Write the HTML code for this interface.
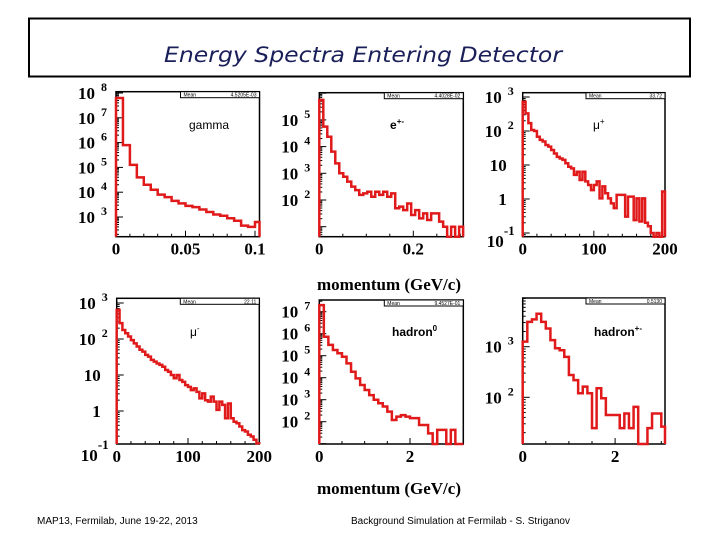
<!DOCTYPE html>
<html><head><meta charset="utf-8"><style>
html,body{margin:0;padding:0;background:#fff;}
svg{display:block;}
.tl{font-family:"Liberation Serif",serif;font-weight:bold;fill:#000;}
.st{font-family:"Liberation Sans",sans-serif;fill:#000;}
</style></head><body>
<svg id="fig" width="720" height="540" viewBox="0 0 720 540" xmlns="http://www.w3.org/2000/svg">
<rect x="0" y="0" width="720" height="540" fill="#fff"/>
<rect x="29" y="18.5" width="661" height="58" fill="none" stroke="#000" stroke-width="2"/>
<text x="363" y="62" text-anchor="middle" font-family="'Comic Sans MS','DejaVu Sans',sans-serif" font-style="italic" font-size="21" fill="#1a1f5a" textLength="398" lengthAdjust="spacingAndGlyphs">Energy Spectra Entering Detector</text>
<text class="tl" x="389" y="290" text-anchor="middle" font-size="17">momentum (GeV/c)</text>
<text class="tl" x="389" y="494" text-anchor="middle" font-size="17">momentum (GeV/c)</text>
<text class="st" x="37" y="524" font-size="10">MAP13, Fermilab, June 19-22, 2013</text>
<text class="st" x="351" y="524" font-size="10">Background Simulation at Fermilab - S. Striganov</text>
<g id="panels"></g>
</svg>
<script>
// Histogram contents (log10 of counts per bin)
const gammaCounts = [7.8,5.9,5.1,4.6,4.3,4.1,3.9,3.8,3.65,3.55,3.45,3.4,3.3,3.2,3.1,3.05,2.95,2.85,2.65,2.6,2.8];
const epmCounts = [5.75,4.75,4.37,3.81,3.37,3.0,2.87,2.69,2.5,2.37,2.19,2.25,2.31,2.12,2.31,2.19,2.31,2.12,2.25,1.69,1.75,1.62,1.87,1.44,1.62,1.31,1.5,1.25,1.5,1.5,1.19,1.0,0.4,1.0,0.4,1.0];
const muPlusCounts = [2.86,2.52,2.23,2.03,2.0,1.83,1.74,1.69,1.59,1.54,1.44,1.34,1.24,1.19,1.15,1.05,0.95,0.9,0.71,0.8,0.56,0.8,0.52,0.41,0.26,0.41,0.52,0.02,0.37,0.17,0.02,-0.13,-0.27,0.12,0.12,0.12,-0.52,0.07,0.07,-0.62,0.02,-0.66,0.02,-0.7,-0.8,-1.0,-1.5,-1.0,-1.5,0.22];
const muMinusCounts = [2.81,2.44,2.25,2.16,2.07,1.97,1.88,1.79,1.7,1.65,1.56,1.51,1.42,1.37,1.32,1.28,1.23,1.14,1.09,1.0,0.91,1.0,0.86,0.81,0.72,0.67,0.58,0.63,0.53,0.35,0.49,0.3,0.26,0.4,0.26,0.03,0.26,0.17,-0.2,0.21,-0.2,-0.3,-0.34,-0.43,-0.53,-0.57,-0.66,-0.71,-0.8,-0.9];
const hadron0Counts = [7.3,5.86,5.49,5.26,5.11,4.95,4.65,4.27,3.97,3.67,3.44,3.21,3.0,2.84,2.69,2.46,2.08,2.23,2.3,2.23,2.16,2.16,1.85,1.85,1.47,0.9,1.63,1.63,0.9,1.63,0.9,0.9];
const hadronPMCounts = [3.1,3.49,3.54,3.65,3.49,3.36,3.13,2.97,2.93,2.8,2.44,2.34,2.08,2.21,2.08,1.39,2.18,1.98,1.65,1.65,1.65,1.39,1.68,1.39,1.81,1.0,1.0,1.39,1.68,1.68,1.42];
const binWidths = [0.005,0.0085,4,4,0.1,0.1];
const xTickLabels = [["0","0.05","0.1"],["0","0.2"],["0","100","200"],["0","100","200"],["0","2"],["0","2"]];
const xTickValues = [[0,0.05,0.1],[0,0.2],[0,100,200],[0,100,200],[0,2],[0,2]];
const xMinorStep = [0.01,0.05,20,20,0.5,0.5];
const decades = [[3,4,5,6,7,8],[2,3,4,5],[-1,0,1,2,3],[-1,0,1,2,3],[2,3,4,5,6,7],[2,3]];
const meanValues = ["4.5205E-03","4.4028E-02","33.72","22.11","9.4527E-01","0.5130"];
const particleNames = ["gamma","e","\u03bc","\u03bc","hadron","hadron"];
const particleSups = ["","+-","+","-","0","+-"];

const layout = [
 {name:"gamma",L:116,R:259.5,T:91.7,B:236.7,xScale:1390,yRef:217,lRef:3,dec:24.8,lab:[189,129],bold:false},
 {name:"e-pm",L:319.3,R:463.3,T:92.7,B:236.7,xScale:470,yRef:200,lRef:2,dec:26.7,lab:[390,129],bold:true},
 {name:"mu-plus",L:522.7,R:665,T:92.7,B:236.7,xScale:0.7115,yRef:97,lRef:3,dec:34,lab:[593,129],bold:false},
 {name:"mu-minus",L:116.7,R:259.3,T:298.3,B:444,xScale:0.713,yRef:303,lRef:3,dec:36,lab:[190,336],bold:false},
 {name:"hadron-0",L:319.3,R:463.3,T:300,B:444,xScale:45.35,yRef:311.7,lRef:7,dec:22,lab:[392,336],bold:true},
 {name:"hadron-pm",L:522.7,R:665,T:298,B:444,xScale:46.2,yRef:346.7,lRef:3,dec:50.6,lab:[594,336],bold:true}
];
const allCounts = [gammaCounts,epmCounts,muPlusCounts,muMinusCounts,hadron0Counts,hadronPMCounts];
const NS="http://www.w3.org/2000/svg";
const root=document.getElementById('panels');
function mk(tag,attrs,parent){const e=document.createElementNS(NS,tag);for(const k in attrs)e.setAttribute(k,attrs[k]);parent.appendChild(e);return e;}

layout.forEach((p,pi)=>{
 const g=mk('g',{},root);
 
 
 const xOf=v=>p.L+v*p.xScale;
 const yOf=l=>p.yRef-(l-p.lRef)*p.dec;
 const clampY=y=>Math.max(p.T,Math.min(p.B,y));
 const fr=mk('rect',{x:p.L,y:p.T,width:p.R-p.L,height:p.B-p.T,fill:'none',stroke:'#000','stroke-width':1.5},g);
 
 
 const xmax=(p.R-p.L)/p.xScale;
 for(let v=0;v<=xmax+1e-9;v+=xMinorStep[pi]){
  const x=xOf(v);const major=xTickValues[pi].some(t=>Math.abs(t-v)<1e-9);
  const t=mk('line',{x1:x,x2:x,y1:p.B,y2:p.B-(major?6:3),stroke:'#000','stroke-width':1},g);
  
  
 }
 xTickValues[pi].forEach((v,i)=>{
  const t=mk('text',{x:xOf(v),y:p.B+18,'text-anchor':'middle','font-size':17,class:'tl'},g);
  t.textContent=xTickLabels[pi][i];
  
  
 });
 const dmin=Math.floor(p.lRef-(p.B-p.yRef)/p.dec)-1, dmax=Math.ceil(p.lRef+(p.yRef-p.T)/p.dec)+1;
 for(let d=dmin;d<=dmax;d++){for(let m=1;m<10;m++){
  const y=yOf(d+Math.log10(m));if(y<p.T||y>p.B)continue;
  const t=mk('line',{x1:p.L,x2:p.L+(m===1?7:3),y1:y,y2:y,stroke:'#000','stroke-width':1},g);
  
  
 }}
 decades[pi].forEach(d=>{
  const y=yOf(d)+6;
  const lab=mk('g',{},g);
  
  
  if(d===0){const t=mk('text',{x:p.L-16,y:y,'text-anchor':'end','font-size':17,class:'tl'},lab);t.textContent='1';}
  else if(d===1){const t=mk('text',{x:p.L-16,y:y,'text-anchor':'end','font-size':17,class:'tl'},lab);t.textContent='10';}
  else if(d<0){const t=mk('text',{x:p.L-19,y:y+8,'text-anchor':'end','font-size':17,class:'tl'},lab);t.textContent='10';
   const s=mk('text',{x:p.L-8,y:y-4,'text-anchor':'end','font-size':13,class:'tl'},lab);s.textContent=String(d);}
  else{const t=mk('text',{x:p.L-38,y:y,'font-size':17,class:'tl'},lab);t.textContent='10';
   const s=mk('text',{x:p.L-15,y:y-8,'font-size':12,class:'tl'},lab);s.textContent=String(d);}
 });
 const sb=mk('g',{},g);
 
 
 mk('rect',{x:p.R-79,y:p.T,width:79,height:6,fill:'#fff',stroke:'#000','stroke-width':1},sb);
 const m1=mk('text',{x:p.R-76,y:p.T+5,'font-size':5,class:'st'},sb);m1.textContent='Mean';
 const m2=mk('text',{x:p.R-3,y:p.T+5,'font-size':5,'text-anchor':'end',class:'st'},sb);m2.textContent=meanValues[pi];
 const pl=mk('text',{x:p.lab[0],y:p.lab[1],'font-size':12,class:'st','font-weight':p.bold?'bold':'normal'},g);
 pl.textContent=particleNames[pi];
 
 
 if(particleSups[pi]){const ts=mk('tspan',{dy:-5,'font-size':8},pl);ts.textContent=particleSups[pi];}
 const counts=allCounts[pi];const w=binWidths[pi];
 let d='M'+xOf(0)+','+p.B;
 counts.forEach((c,i)=>{const y=clampY(yOf(c));d+=' L'+xOf(i*w)+','+y+' L'+Math.min(p.R,xOf((i+1)*w))+','+y;});
 d+=' L'+Math.min(p.R,xOf(counts.length*w))+','+p.B;
 const h=mk('path',{d:d,fill:'none',stroke:'#e01a1a','stroke-width':2.5,'stroke-linejoin':'miter'},g);
 
 
});
</script>
</body></html>
